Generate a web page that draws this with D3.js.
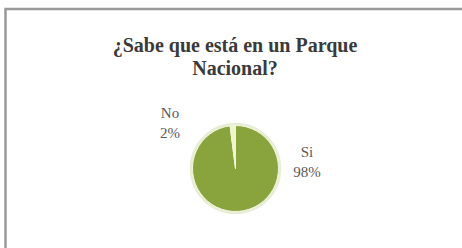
<!DOCTYPE html>
<html>
<head>
<meta charset="utf-8">
<script src="https://cdn.jsdelivr.net/npm/d3@7"></script>
<style>
  body { margin: 0; background: #fff; }
  svg { display: block; }
</style>
</head>
<body>
<div id="chart"></div>
<script>
// datos de la encuesta
var categories = ["Si", "No"];
var values = [98, 2];
var labels = ["98%", "2%"];
var title = ["¿Sabe que está en un Parque", "Nacional?"];

var width = 462, height = 248;
var cx = 235.5, cy = 168.5, radius = 43;

var colors = d3.scaleOrdinal()
    .domain(categories)
    .range(["#89a33d", "#eef4cc"]);

var svg = d3.select("#chart").append("svg")
    .attr("width", width)
    .attr("height", height);

// marco del grafico
svg.append("rect")
    .attr("x", 5.5).attr("y", 9)
    .attr("width", 470).attr("height", 260)
    .attr("fill", "#fff")
    .attr("stroke", "#9a9a9a")
    .attr("stroke-width", 2.5);

svg.append("text")
    .attr("text-anchor", "middle")
    .attr("font-family", "Liberation Serif, serif")
    .attr("font-weight", "bold")
    .attr("font-size", 20)
    .attr("fill", "#3a3a3a")
    .selectAll("tspan")
    .data(title)
    .enter()
    .append("tspan")
    .attr("x", 235)
    .attr("y", (d, i) => 52 + i * 23)
    .text(d => d);

var pie = d3.pie().sort(null).value(d => d.value);
var arc = d3.arc().innerRadius(0).outerRadius(radius);

var data = categories.map((c, i) => ({cat: c, value: values[i], label: labels[i]}));

var g = svg.append("g").attr("transform", "translate(" + cx + "," + cy + ")");

g.append("circle")
    .attr("r", radius + 1.5)
    .attr("fill", "none")
    .attr("stroke", "#e8eed6")
    .attr("stroke-width", 2.5);

g.selectAll("path")
    .data(pie(data))
    .enter()
    .append("path")
    .attr("d", arc)
    .attr("fill", d => colors(d.data.cat))
    .attr("stroke", "#f2f6dc")
    .attr("stroke-width", 1);

var labelPos = {"Si": [307, 157], "No": [170, 118]};

svg.append("g").selectAll("text")
    .data(data)
    .enter()
    .append("text")
    .attr("text-anchor", "middle")
    .attr("font-family", "Liberation Serif, serif")
    .attr("font-size", 15)
    .attr("fill", "#5a5a5a")
    .each(function(d) {
      var p = labelPos[d.cat];
      var t = d3.select(this);
      t.append("tspan").attr("x", p[0]).attr("y", p[1]).text(d.cat);
      t.append("tspan").attr("x", p[0]).attr("y", p[1] + 20).text(d.label);
    });
</script>
</body>
</html>
